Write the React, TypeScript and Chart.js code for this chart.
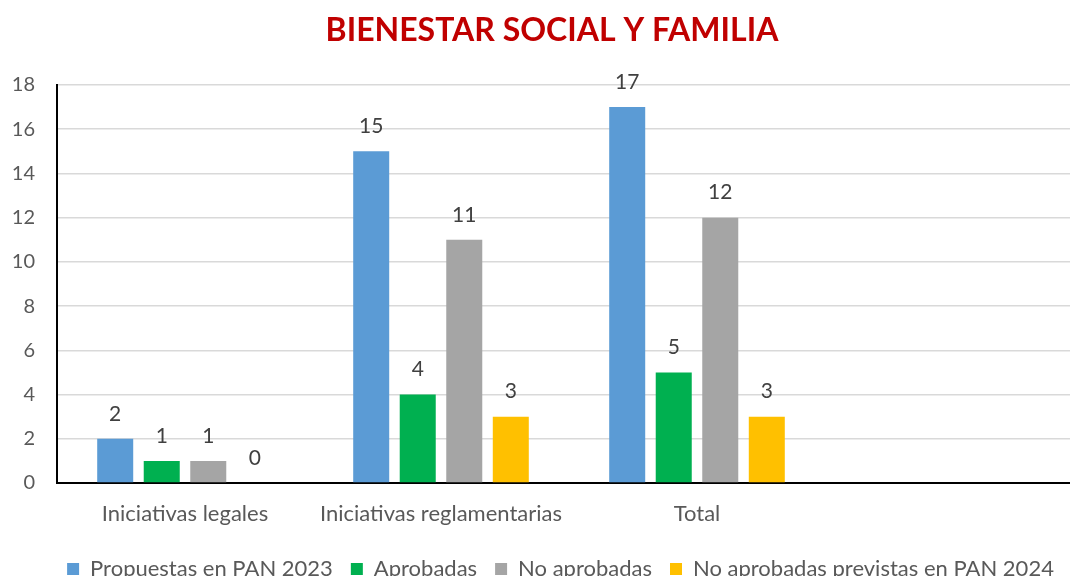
import React, { useEffect, useRef } from "react";
import { Chart, registerables } from "chart.js";

Chart.register(...registerables);

const TITLE = "BIENESTAR SOCIAL Y FAMILIA";
const categories = ["Iniciativas legales", "Iniciativas reglamentarias", "Total", ""];
const propuestas = [2, 15, 17, null];
const aprobadas = [1, 4, 5, null];
const noAprobadas = [1, 11, 12, null];
const previstas = [0, 3, 3, null];
const seriesNames = [
  "Propuestas en PAN 2023",
  "Aprobadas",
  "No aprobadas",
  "No aprobadas previstas en PAN 2024",
];
const seriesColors = ["#5B9BD5", "#00B050", "#A5A5A5", "#FFC000"];
const yTicks = { min: 0, max: 18, step: 2 };

const FONT = "Lato";

const valueLabels = {
  id: "valueLabels",
  afterDatasetsDraw(chart: any) {
    const ctx = chart.ctx;
    ctx.save();
    ctx.font = `21px ${FONT}`;
    ctx.fillStyle = "#404040";
    ctx.textAlign = "center";
    ctx.textBaseline = "middle";
    chart.data.datasets.forEach((ds: any, di: number) => {
      const meta = chart.getDatasetMeta(di);
      meta.data.forEach((bar: any, i: number) => {
        const v = ds.data[i];
        if (v === null || v === undefined) return;
        ctx.fillText(String(v), bar.x, bar.y - 25);
      });
    });
    ctx.restore();
  },
};

const customTitle = {
  id: "customTitle",
  afterDraw(chart: any) {
    const ctx = chart.ctx;
    ctx.save();
    ctx.font = `bold 32px ${FONT}`;
    ctx.fillStyle = "#C00000";
    ctx.textAlign = "center";
    ctx.textBaseline = "middle";
    ctx.fillText(TITLE, 552, 31);
    ctx.restore();
  },
};

// shift the legend's centring box a little to the right, like the reference
const legendShift = {
  id: "legendShift",
  afterLayout(chart: any) {
    if (chart.legend) {
      chart.legend.left = 40;
    }
  },
};

export default function App() {
  const ref = useRef<HTMLCanvasElement>(null);
  useEffect(() => {
    if (!ref.current) return;
    const data = [propuestas, aprobadas, noAprobadas, previstas];
    const chart = new Chart(ref.current, {
      type: "bar",
      data: {
        labels: categories,
        datasets: data.map((d, i) => ({
          label: seriesNames[i],
          data: d,
          backgroundColor: seriesColors[i],
          categoryPercentage: 0.727,
          barPercentage: 0.774,
        })),
      },
      plugins: [valueLabels, customTitle, legendShift],
      options: {
        responsive: false,
        animation: false,
        layout: { padding: { top: 85, right: 9, left: 0, bottom: 0 } },
        plugins: {
          title: { display: false },
          tooltip: { enabled: false },
          legend: {
            position: "bottom",
            fullSize: true,
            labels: {
              boxWidth: 12,
              boxHeight: 12,
              padding: 18,
              color: "#595959",
              font: { family: FONT, size: 22 },
            },
          },
        },
        scales: {
          x: {
            grid: { display: false, drawTicks: false },
            border: { color: "#000", width: 2 },
            ticks: {
              color: "#595959",
              padding: 18,
              font: { family: FONT, size: 22 },
            },
            afterFit(s: any) {
              s.height = 57;
            },
          },
          y: {
            min: yTicks.min,
            max: yTicks.max,
            grid: { color: "#D9D9D9", lineWidth: 1.5, drawTicks: false },
            border: { color: "#000", width: 2 },
            ticks: {
              stepSize: yTicks.step,
              color: "#595959",
              padding: 22,
              font: { family: FONT, size: 20 },
            },
            afterFit(s: any) {
              s.width = 57;
            },
          },
        },
      },
    } as any);
    return () => chart.destroy();
  }, []);
  return (
    <div
      style={{
        position: "fixed",
        left: 0,
        top: 0,
        width: 1070,
        height: 576,
        overflow: "hidden",
        background: "#fff",
      }}
    >
      <canvas ref={ref} width={1090} height={590} style={{ display: "block", width: 1090, height: 590 }} />
    </div>
  );
}
